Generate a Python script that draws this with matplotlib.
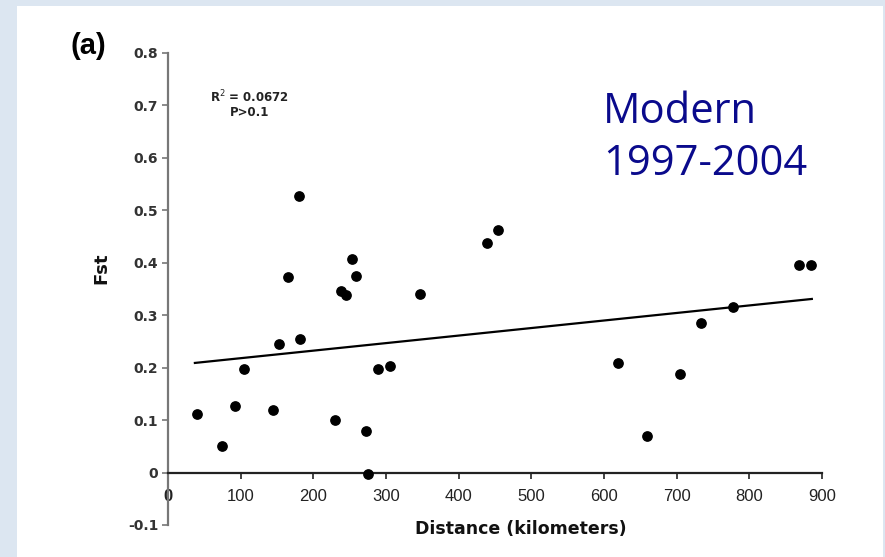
import matplotlib
matplotlib.use("Agg")
import matplotlib.pyplot as plt
from matplotlib.patches import Rectangle
import numpy as np

# ---- data ----
distance_km = [39.5, 74, 92, 104, 145, 153, 165, 180, 182, 230, 238, 244.5,
               253, 259, 273, 275, 289, 305, 347, 438.5, 453.7, 619, 659.6,
               704.5, 734, 777, 868, 885]
fst = [0.112, 0.050, 0.127, 0.197, 0.119, 0.246, 0.373, 0.528, 0.255, 0.101,
       0.347, 0.339, 0.407, 0.375, 0.079, -0.003, 0.197, 0.203, 0.340, 0.437,
       0.463, 0.209, 0.069, 0.188, 0.285, 0.316, 0.396, 0.395]
fit_intercept = 0.2037
fit_slope = 0.0001437
fit_range = [37, 886]
x_ticks = [0, 100, 200, 300, 400, 500, 600, 700, 800, 900]
y_ticks = [-0.1, 0, 0.1, 0.2, 0.3, 0.4, 0.5, 0.6, 0.7, 0.8]
y_ticklabels = ["-0.1", "0", "0.1", "0.2", "0.3", "0.4", "0.5", "0.6", "0.7", "0.8"]
stats_text = "R$^2$ = 0.0672\nP>0.1"
title_text = "Modern\n1997-2004"

W, H = 885, 557
fig = plt.figure(figsize=(W / 100, H / 100), dpi=100)
fig.patch.set_facecolor("#dce6f1")
fig.patches.append(Rectangle((17 / W, 0), (883 - 17) / W, (H - 6) / H,
                             transform=fig.transFigure, facecolor="white",
                             edgecolor="none", zorder=-10))

ax = fig.add_axes([168 / W, (H - 525) / H, (822 - 168) / W, (525 - 53) / H])
ax.set_facecolor("none")
ax.set_zorder(1)
ax.set_xlim(0, 900)
ax.set_ylim(-0.1, 0.8)

ax.scatter(distance_km, fst, s=45, color="black", zorder=3, clip_on=False)
xf = np.array(fit_range, dtype=float)
ax.plot(xf, fit_intercept + fit_slope * xf, color="black", lw=1.6, zorder=2)

for s in ["top", "right"]:
    ax.spines[s].set_visible(False)
ax.spines["left"].set_color("#777777")
ax.spines["left"].set_linewidth(1.6)
ax.spines["bottom"].set_position(("data", 0))
ax.spines["bottom"].set_color("#222222")
ax.spines["bottom"].set_linewidth(1.6)

ax.set_yticks(y_ticks)
ax.set_yticklabels(y_ticklabels)
ax.set_xticks(x_ticks)
ax.set_xticklabels([str(t) for t in x_ticks])
ax.tick_params(axis="y", direction="out", length=4, width=1.2, color="#777777",
               labelsize=10, labelcolor="#333333", pad=3)
ax.tick_params(axis="x", direction="out", length=4, width=1.2, color="#222222",
               labelsize=12, labelcolor="#222222", pad=8)
for lab in ax.get_yticklabels():
    lab.set_fontweight("bold")
for lab in ax.get_xticklabels():
    lab.set_family("Liberation Sans")
ax.get_xticklabels()[0].set_fontweight("bold")

fig.text(101 / W, 1 - 268 / H, "Fst", fontsize=13, fontweight="bold",
         rotation=90, ha="center", va="center", color="#111111")
fig.text(521 / W, 1 - 529 / H, "Distance (kilometers)", fontsize=12.5,
         fontweight="bold", ha="center", va="center", color="#111111")

fig.text(88 / W, 1 - 46 / H, "(a)", fontsize=21, fontweight="bold",
         family="Liberation Sans", ha="center", va="center")
fig.text(250 / W, 1 - 104 / H, stats_text, fontsize=8.5, fontweight="bold",
         ha="center", va="center", linespacing=1.05, color="#222222")
fig.text(603 / W, 1 - 138 / H, title_text, fontsize=30, family="Open Sans",
         color="#0a0a8c", ha="left", va="center", linespacing=1.3)

fig.savefig("out.png", dpi=100, facecolor=fig.get_facecolor())
